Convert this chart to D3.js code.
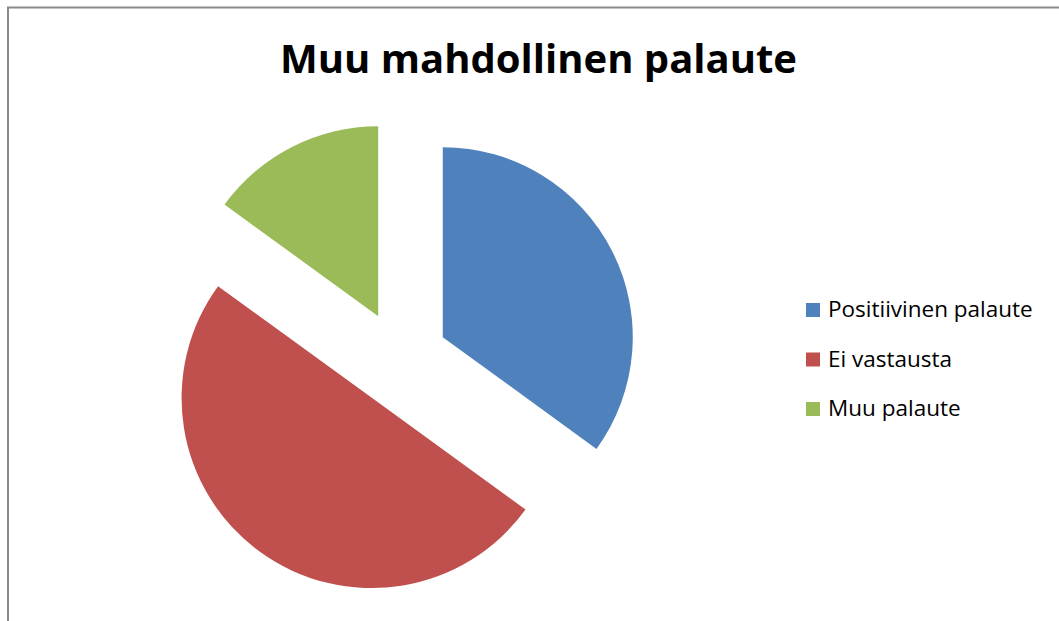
<!DOCTYPE html>
<html lang="fi">
<head>
  <meta charset="UTF-8">
  <title>Muu mahdollinen palaute</title>
  <script src="https://d3js.org/d3.v7.min.js"></script>
  <style>
    body { margin: 0; background: #fff; }
    svg { display: block; }
    text { font-family: "Open Sans", "Liberation Sans", sans-serif; fill: #000; }
  </style>
</head>
<body>
  <svg width="1059" height="621"></svg>

  <script>
    // data (counts, 20 answers total)
    const categories = ["Positiivinen palaute", "Ei vastausta", "Muu palaute"];
    const values = [7, 10, 3];
    const colors = ["#4F81BD", "#C0504D", "#9BBB59"];
    const title = "Muu mahdollinen palaute";

    let svg = d3.select("svg");
    let width = +svg.attr("width");
    let height = +svg.attr("height");

    // chart area border (only left and top edges are visible in the frame)
    svg.append("rect")
      .attr("x", 8)
      .attr("y", 7.5)
      .attr("width", width + 20)
      .attr("height", height + 20)
      .attr("fill", "none")
      .attr("stroke", "#8a8a8a")
      .attr("stroke-width", 2);

    svg.append("text")
      .attr("x", 538.5)
      .attr("y", 73)
      .attr("text-anchor", "middle")
      .attr("font-size", 40)
      .attr("font-weight", "bold")
      .attr("textLength", 517)
      .attr("lengthAdjust", "spacingAndGlyphs")
      .text(title);

    let cx = 400, cy = 359;
    let radius = 190;
    let explode = 48;

    let pie = d3.pie().sort(null).value(d => d);
    let arc = d3.arc().innerRadius(0).outerRadius(radius);

    let slices = pie(values);

    svg.append("g")
      .attr("transform", `translate(${cx},${cy})`)
      .selectAll("path")
      .data(slices)
      .enter().append("path")
      .attr("d", arc)
      .attr("fill", (d, i) => colors[i])
      .attr("transform", d => {
        let mid = (d.startAngle + d.endAngle) / 2;
        return `translate(${explode * Math.sin(mid)},${-explode * Math.cos(mid)})`;
      });

    // legend
    let legend = svg.append("g")
      .attr("transform", "translate(806,303)");

    let y = d3.scalePoint()
      .domain(categories)
      .range([0, 99]);

    let item = legend.selectAll("g")
      .data(categories)
      .enter().append("g")
      .attr("transform", d => `translate(0,${y(d)})`);

    item.append("rect")
      .attr("width", 14)
      .attr("height", 14)
      .attr("fill", (d, i) => colors[i]);

    item.append("text")
      .attr("x", 22)
      .attr("y", 14)
      .attr("font-size", 22.5)
      .text(d => d);
  </script>
</body>
</html>
